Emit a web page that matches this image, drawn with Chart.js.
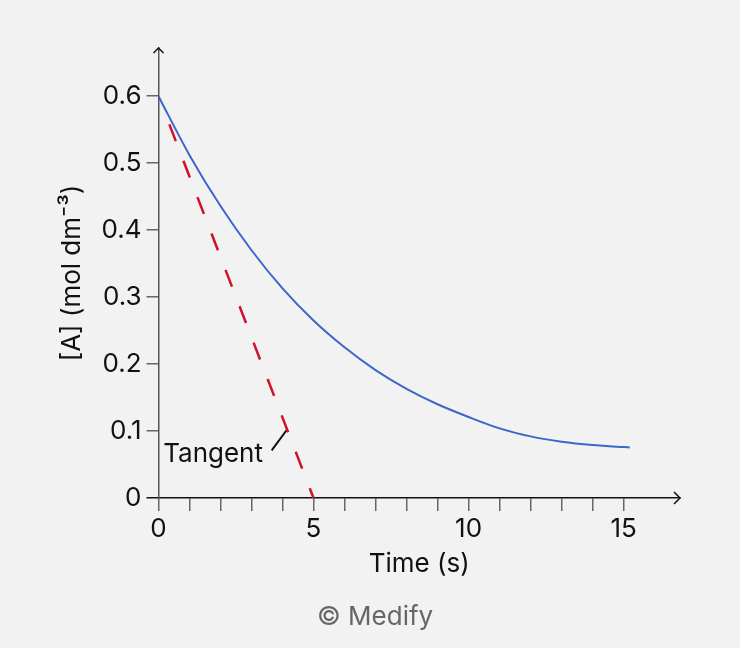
<!DOCTYPE html>
<html>
<head>
<meta charset="utf-8">
<script src="https://cdn.jsdelivr.net/npm/chart.js@4/dist/chart.umd.min.js"></script>
<style>
  html, body { margin: 0; padding: 0; background: #f2f2f2; }
  #wrap { position: relative; width: 740px; height: 648px; }
  #credit {
    position: absolute; top: 603px; left: 317px;
    font: 26px Inter, "Liberation Sans", sans-serif; line-height: 1; color: #666;
  }
</style>
</head>
<body>
<div id="wrap">
  <canvas id="rate-chart" width="740" height="648"></canvas>
  <div id="credit">© Medify</div>
</div>
<script>
// data
const timeS = [0, 1, 2, 3, 4, 5, 6, 7, 8, 9, 10, 11, 12, 13, 14, 15, 15.2];
const concA = [0.600, 0.512, 0.436, 0.370, 0.313, 0.265, 0.225, 0.191, 0.163, 0.140, 0.121, 0.104, 0.092, 0.084, 0.079, 0.076, 0.0755];

// tangent drawn at t = 0
const tangentX = [0.35, 5];
const tangentY = [0.558, 0];

// little pointer line from the label to the tangent
const leaderX = [3.65, 4.16];
const leaderY = [0.071, 0.103];

const xTickLabels = [0, 5, 10, 15];
const yTickLabels = ["0", "0.1", "0.2", "0.3", "0.4", "0.5", "0.6"];

const FONT = "Inter, 'Liberation Sans', sans-serif";

function toPoints(xs, ys) {
  return xs.map((x, i) => ({ x: x, y: ys[i] }));
}

// arrow heads on the axes + the "Tangent" label
const extrasPlugin = {
  id: "extras",
  afterDraw(chart) {
    const ctx = chart.ctx;
    const area = chart.chartArea;
    const xs = chart.scales.x;
    const ys = chart.scales.y;

    ctx.save();
    ctx.lineWidth = 1.5;
    ctx.strokeStyle = "#111";
    // x arrow
    ctx.beginPath();
    ctx.moveTo(area.right - 6, area.bottom - 6);
    ctx.lineTo(area.right, area.bottom);
    ctx.lineTo(area.right - 6, area.bottom + 6);
    ctx.stroke();
    // y arrow
    ctx.beginPath();
    ctx.moveTo(area.left - 5, area.top + 5);
    ctx.lineTo(area.left, area.top);
    ctx.lineTo(area.left + 5, area.top + 5);
    ctx.stroke();

    ctx.fillStyle = "#111";
    ctx.font = "26px " + FONT;
    ctx.textAlign = "right";
    ctx.textBaseline = "middle";
    ctx.fillText("Tangent", xs.getPixelForValue(3.37), ys.getPixelForValue(0.066));
    ctx.restore();
  },
};

const chartCanvas = document.querySelector("#rate-chart");

new Chart(chartCanvas, {
  type: "scatter",
  data: {
    datasets: [
      {
        label: "[A]",
        data: toPoints(timeS, concA),
        showLine: true,
        borderColor: "#3b67c9",
        borderWidth: 2,
        pointRadius: 0,
        cubicInterpolationMode: "monotone",
      },
      {
        label: "Tangent",
        data: toPoints(tangentX, tangentY),
        showLine: true,
        borderColor: "#d0112b",
        borderWidth: 2.5,
        borderDash: [18, 21],
        pointRadius: 0,
      },
      {
        label: "pointer",
        data: toPoints(leaderX, leaderY),
        showLine: true,
        borderColor: "#111",
        borderWidth: 2,
        pointRadius: 0,
      },
    ],
  },
  options: {
    responsive: false,
    animation: false,
    layout: {
      padding: { top: 48, right: 60, left: 0, bottom: 0 },
    },
    plugins: {
      legend: { display: false },
      tooltip: { enabled: false },
    },
    scales: {
      x: {
        type: "linear",
        min: 0,
        max: 16.82,
        afterFit(scale) {
          scale.height = 150;
        },
        afterBuildTicks(scale) {
          scale.ticks = scale.ticks.filter((t) => Math.abs(t.value - Math.round(t.value)) < 1e-6);
        },
        border: { color: "#111", width: 1.5 },
        grid: {
          drawOnChartArea: false,
          drawTicks: true,
          tickLength: 13,
          color: "#666",
          lineWidth: 1.5,
        },
        ticks: {
          stepSize: 1,
          autoSkip: false,
          maxRotation: 0,
          padding: 3,
          color: "#111",
          font: { family: FONT, size: 26 },
          callback: (v) => (xTickLabels.includes(v) ? String(v) : ""),
        },
        title: {
          display: true,
          text: "Time (s)",
          color: "#111",
          font: { family: FONT, size: 26 },
          padding: { top: 0, bottom: 68 },
        },
      },
      y: {
        min: 0,
        max: 0.672,
        afterFit(scale) {
          scale.width = 158.5;
        },
        afterBuildTicks(scale) {
          scale.ticks = scale.ticks.filter((t) => t.value < 0.65);
        },
        border: { color: "#555", width: 1.5 },
        grid: {
          drawOnChartArea: false,
          drawTicks: true,
          tickLength: 12,
          color: (c) => (c.tick && c.tick.value === 0 ? "#111" : "#666"),
          lineWidth: 1.5,
        },
        ticks: {
          stepSize: 0.1,
          padding: 5,
          color: "#111",
          font: { family: FONT, size: 26 },
          callback: (v, i) => yTickLabels[Math.round(v * 10)],
        },
        title: {
          display: true,
          text: "[A] (mol dm⁻³)",
          color: "#111",
          font: { family: FONT, size: 26 },
          padding: { top: 57, bottom: 0 },
        },
      },
    },
  },
  plugins: [extrasPlugin],
});
</script>
</body>
</html>
